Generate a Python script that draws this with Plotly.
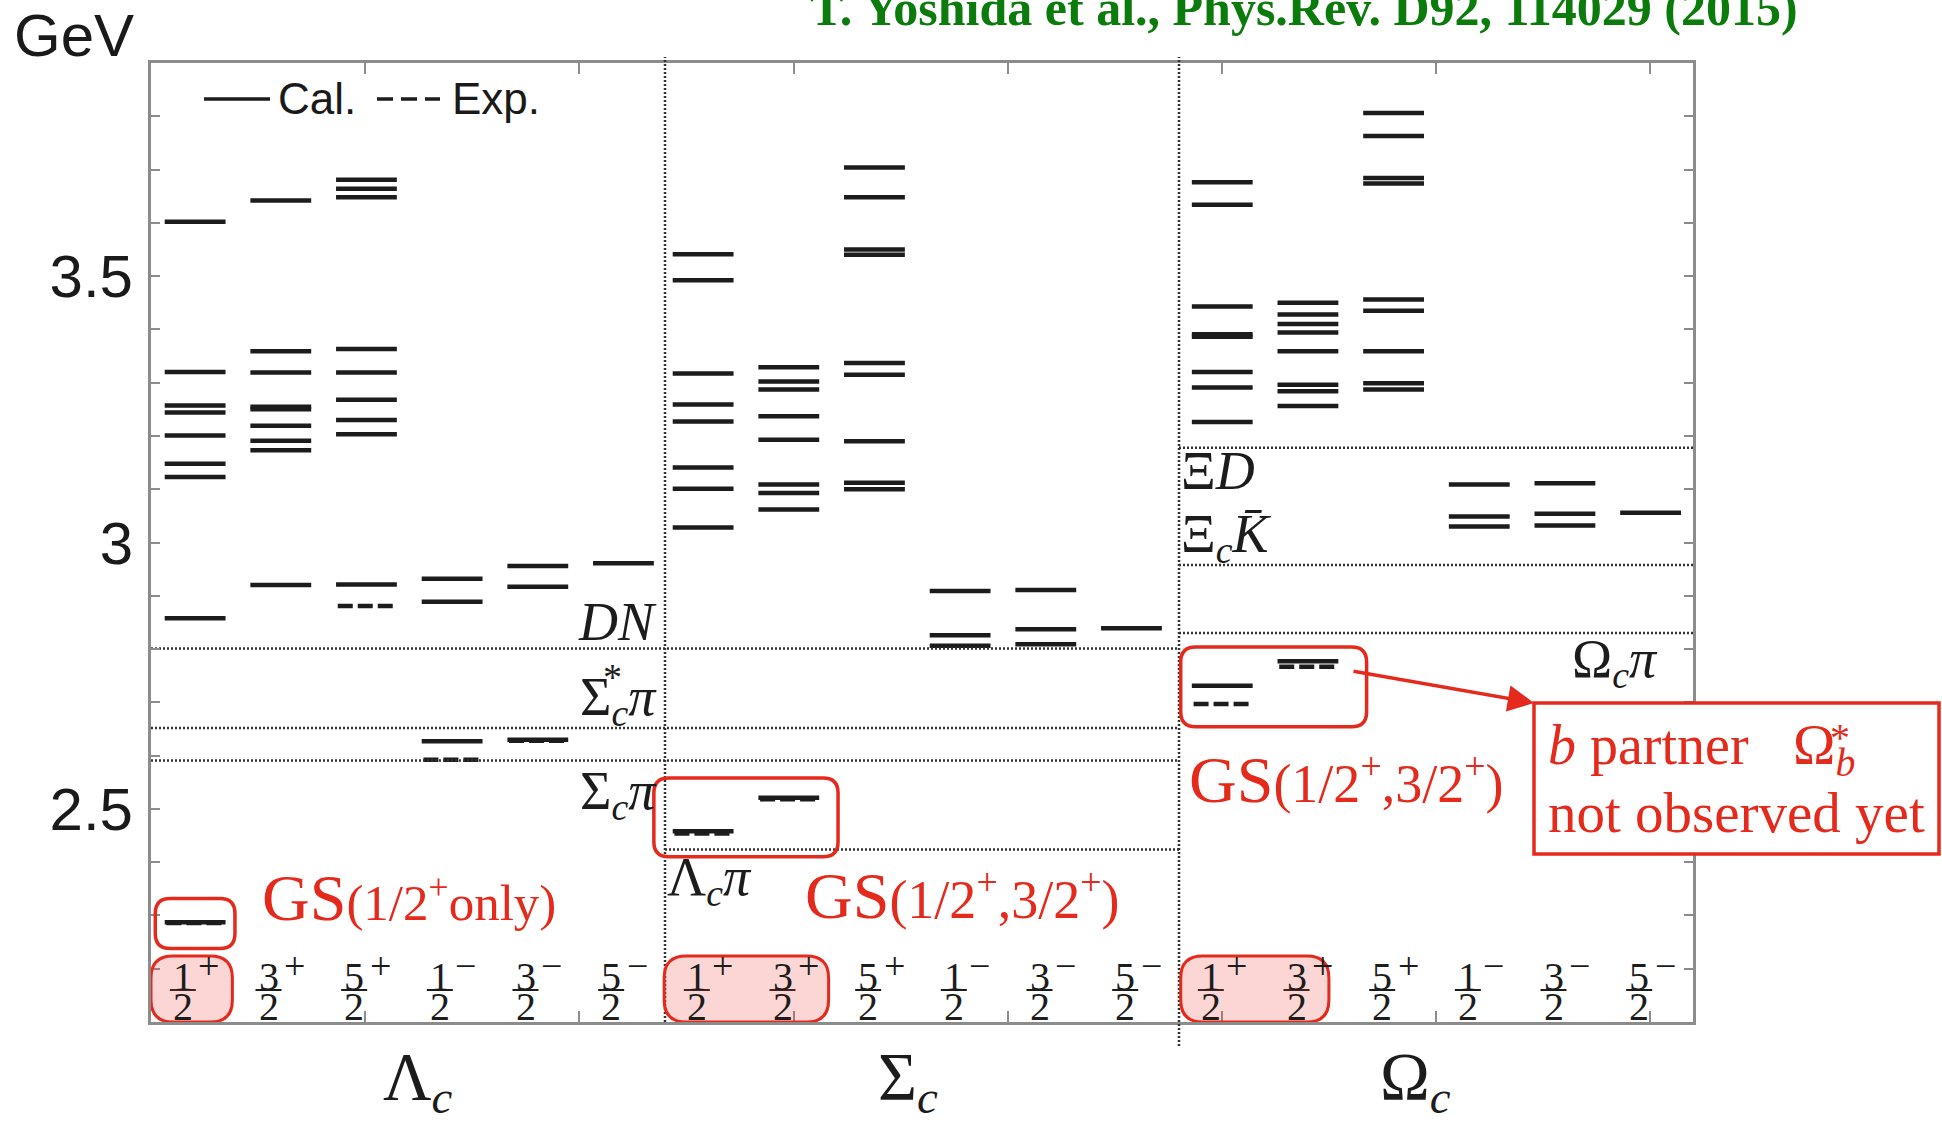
import plotly.graph_objects as go

# ----------------------------------------------------------------------
# Charmed-baryon spectra (GeV).  One list per J^P column, in the order
# 1/2+, 3/2+, 5/2+, 1/2-, 3/2-, 5/2-.
# ----------------------------------------------------------------------
lambda_c_cal = [
    [2.287, 2.858, 3.123, 3.148, 3.201, 3.244, 3.257, 3.320, 3.602],
    [2.920, 3.173, 3.191, 3.219, 3.250, 3.255, 3.319, 3.359, 3.642],
    [2.921, 3.203, 3.230, 3.268, 3.319, 3.363, 3.648, 3.664, 3.681],
    [2.627, 2.889, 2.932],
    [2.630, 2.917, 2.956],
    [2.961],
]
lambda_c_exp = [[2.286], [], [2.881], [2.592], [2.628], []]

sigma_c_cal = [
    [2.458, 3.028, 3.101, 3.141, 3.227, 3.259, 3.317, 3.492, 3.541],
    [2.521, 3.062, 3.093, 3.109, 3.193, 3.237, 3.287, 3.302, 3.329],
    [3.100, 3.112, 3.190, 3.315, 3.337, 3.540, 3.550, 3.648, 3.704],
    [2.806, 2.826, 2.909],
    [2.809, 2.837, 2.911],
    [2.839],
]
sigma_c_exp = [[2.454], [2.518], [], [], [], []]

omega_c_cal = [
    [2.731, 3.226, 3.291, 3.320, 3.386, 3.391, 3.443, 3.634, 3.676],
    [2.777, 3.256, 3.284, 3.296, 3.359, 3.394, 3.410, 3.428, 3.450],
    [3.287, 3.299, 3.359, 3.435, 3.456, 3.674, 3.684, 3.763, 3.806],
    [3.030, 3.049, 3.109],
    [3.032, 3.054, 3.111],
    [3.056],
]
omega_c_exp = [[2.697], [2.767], [], [], [], []]

# J^P column labels
jp_numerator = ["1", "3", "5", "1", "3", "5"]
jp_denominator = ["2", "2", "2", "2", "2", "2"]
jp_parity = ["+", "+", "+", "\u2212", "\u2212", "\u2212"]

baryon_names = ["\u039b<sub><i>c</i></sub>", "\u03a3<sub><i>c</i></sub>", "\u03a9<sub><i>c</i></sub>"]

# two-hadron thresholds (GeV) and the panels they belong to
threshold_names = ["DN", "Sigma_c* pi", "Sigma_c pi", "Lambda_c pi", "Xi D", "Xi_c Kbar", "Omega_c pi"]
threshold_mass = [2.801, 2.652, 2.591, 2.424, 3.178, 2.958, 2.830]
threshold_panels = [(0, 1), (0, 1), (0, 1), (1,), (2,), (2,), (2,)]

y_tick_values = [2.5, 3.0, 3.5]

# ----------------------------------------------------------------------
# Geometry and style
# ----------------------------------------------------------------------
W, H = 1942, 1125
M_L, M_R, M_T, M_B = 151, 249, 63, 103
PLOT_W = W - M_L - M_R
PLOT_H = H - M_T - M_B
X_RANGE = (0.0, 18.0)
Y_RANGE = (2.1, 3.9)
PX_PER_COL = PLOT_W / (X_RANGE[1] - X_RANGE[0])
PX_PER_GEV = PLOT_H / (Y_RANGE[1] - Y_RANGE[0])

RED = "#e42a1c"
INK = "#1c1c1c"
AXIS_GREY = "#8c8c8c"
GREEN = "#0b7b0b"
SERIF = "Liberation Serif, Times New Roman, serif"
SANS = "Liberation Sans, Arial, sans-serif"
NARROW = "Liberation Sans Narrow, Liberation Sans, Arial, sans-serif"


def paper_x(px):
    return (px - M_L) / PLOT_W


def paper_y(py):
    return (H - M_B - py) / PLOT_H


def y_of_px(py):
    return Y_RANGE[1] - (py - M_T) / PX_PER_GEV


def rounded_path(x0, x1, y0, y1, r_px):
    rx = r_px / PX_PER_COL
    ry = r_px / PX_PER_GEV
    return (f"M{x0 + rx},{y0} L{x1 - rx},{y0} Q{x1},{y0} {x1},{y0 + ry} "
            f"L{x1},{y1 - ry} Q{x1},{y1} {x1 - rx},{y1} L{x0 + rx},{y1} "
            f"Q{x0},{y1} {x0},{y1 - ry} L{x0},{y0 + ry} Q{x0},{y0} {x0 + rx},{y0} Z")


fig = go.Figure()

# ---- energy levels ---------------------------------------------------
panel_levels = [(lambda_c_cal, lambda_c_exp), (sigma_c_cal, sigma_c_exp), (omega_c_cal, omega_c_exp)]
line_span = [(0.16, 0.87), (0.09, 0.80), (0.15, 0.86)]

for p, (cal, exp) in enumerate(panel_levels):
    a, b = line_span[p]
    xs, ys = [], []
    for j, levels in enumerate(cal):
        col = 6 * p + j
        for e in levels:
            xs += [col + a, col + b, None]
            ys += [e, e, None]
    fig.add_trace(go.Scatter(x=xs, y=ys, mode="lines", name="Cal.",
                             line=dict(color=INK, width=4.5), hoverinfo="skip"))
    xs, ys = [], []
    for j, levels in enumerate(exp):
        col = 6 * p + j
        for e in levels:
            xs += [col + a + 0.02, col + b - 0.02, None]
            ys += [e, e, None]
    fig.add_trace(go.Scatter(x=xs, y=ys, mode="lines", name="Exp.",
                             line=dict(color=INK, width=4.5, dash="15px,5px"), hoverinfo="skip"))

# ---- thresholds -------------------------------------------------------
tx, ty = [], []
for m, panels in zip(threshold_mass, threshold_panels):
    tx += [6 * min(panels), 6 * (max(panels) + 1), None]
    ty += [m, m, None]
fig.add_trace(go.Scatter(x=tx, y=ty, mode="lines", name="thresholds",
                         line=dict(color="#333333", width=2.5, dash="2px,2px"), hoverinfo="skip"))

shapes = []
annotations = []

# panel separators
for sep, bottom in ((6, 1022), (12, 1046)):
    shapes.append(dict(type="line", xref="paper", yref="paper",
                       x0=sep / 18, x1=sep / 18, y0=paper_y(bottom), y1=paper_y(57),
                       line=dict(color="#333333", width=2.5, dash="2px,2px"), layer="above"))


def text(xpx, ypx, s, size, xanchor="left", color=INK, family=SERIF):
    annotations.append(dict(xref="paper", yref="paper", x=paper_x(xpx), y=paper_y(ypx),
                            text=s, showarrow=False, xanchor=xanchor, yanchor="middle",
                            font=dict(family=family, size=size, color=color)))


# ---- threshold labels ---------------------------------------------------
text(659, 622, "<i>DN</i>", 54, "right")
text(659, 700, "\u03a3<sub><i>c</i></sub><i>\u03c0</i>", 54, "right")
text(612, 677, "*", 38, "center")
text(659, 794, "\u03a3<sub><i>c</i></sub><i>\u03c0</i>", 54, "right")
text(665, 880, "\u039b<sub><i>c</i></sub><i>\u03c0</i>", 54, "left")
text(1179, 471, "\u039e<i>D</i>", 54, "left")
text(1179, 537, "\u039e<sub><i>c</i></sub><i>K\u0304</i>", 54, "left")
text(1660, 662, "\u03a9<sub><i>c</i></sub><i>\u03c0</i>", 54, "right")

# ---- J^P labels ---------------------------------------------------------
for p in range(3):
    for j in range(6):
        col = 6 * p + j
        fc = col + 0.5 - 11 / PX_PER_COL
        annotations.append(dict(x=fc, y=y_of_px(976), text=jp_numerator[j],
                                showarrow=False, xanchor="center", yanchor="middle",
                                font=dict(family=SERIF, size=40, color=INK)))
        annotations.append(dict(x=fc, y=y_of_px(1006), text=jp_denominator[j],
                                showarrow=False, xanchor="center", yanchor="middle",
                                font=dict(family=SERIF, size=40, color=INK)))
        annotations.append(dict(x=fc + 26 / PX_PER_COL, y=y_of_px(966),
                                text=jp_parity[j], showarrow=False, xanchor="center", yanchor="middle",
                                font=dict(family=SERIF, size=38, color=INK)))
        ybar = y_of_px(990)
        shapes.append(dict(type="line", xref="x", yref="y",
                           x0=fc - 13 / PX_PER_COL, x1=fc + 13 / PX_PER_COL, y0=ybar, y1=ybar,
                           line=dict(color=INK, width=2)))

# ---- baryon names -------------------------------------------------------
for name, left in zip(baryon_names, (381, 876, 1378)):
    text(left, 1081, name, 67, "left")

# ---- highlight boxes ----------------------------------------------------
label_top = y_of_px(956)
for x0, x1 in ((0.0, 0.95), (5.99, 7.91), (12.02, 13.75)):
    shapes.append(dict(type="path", xref="x", yref="y",
                       path=rounded_path(x0, x1, Y_RANGE[0], label_top, 22),
                       fillcolor="rgba(240,70,60,0.22)", line=dict(color=RED, width=3), layer="above"))

lam_gs = lambda_c_cal[0][0]
shapes.append(dict(type="path", xref="x", yref="y",
                   path=rounded_path(0.05, 0.98, lam_gs - 0.049, lam_gs + 0.045, 15),
                   line=dict(color=RED, width=3.5), layer="above"))
sig_lo = min(sigma_c_cal[0][0], sigma_c_exp[0][0])
sig_hi = max(sigma_c_cal[1][0], sigma_c_exp[1][0])
shapes.append(dict(type="path", xref="x", yref="y",
                   path=rounded_path(5.87, 8.02, sig_lo - 0.044, sig_hi + 0.037, 15),
                   line=dict(color=RED, width=3.5), layer="above"))
om_lo = min(omega_c_cal[0][0], omega_c_exp[0][0])
om_hi = max(omega_c_cal[1][0], omega_c_exp[1][0])
shapes.append(dict(type="path", xref="x", yref="y",
                   path=rounded_path(12.02, 14.19, om_lo - 0.043, om_hi + 0.027, 15),
                   line=dict(color=RED, width=3.5), layer="above"))

# ---- ground-state captions ----------------------------------------------
text(260, 898, 'GS<span style="font-size:51px">(1/2<sup>+</sup>only)</span>', 66, "left", RED)
text(803, 896, 'GS<span style="font-size:54px">(1/2<sup>+</sup>,3/2<sup>+</sup>)</span>', 66, "left", RED)
text(1187, 779, 'GS<span style="font-size:54px">(1/2<sup>+</sup>,3/2<sup>+</sup>)</span>', 66, "left", RED)

# ---- b-partner call-out ---------------------------------------------------
shapes.append(dict(type="rect", xref="paper", yref="paper",
                   x0=paper_x(1534), x1=paper_x(1939), y0=paper_y(854), y1=paper_y(703),
                   fillcolor="white", line=dict(color=RED, width=3.5), layer="above"))
annotations.append(dict(xref="paper", yref="paper", x=paper_x(1534), y=paper_y(703),
                        ax=1352 - 1534, ay=671 - 703, axref="pixel", ayref="pixel",
                        text="", showarrow=True, arrowhead=2, arrowsize=1.5, arrowwidth=3.5,
                        arrowcolor=RED, standoff=0))
text(1546, 745, "<i>b</i> partner", 56, "left", RED)
text(1791, 749, "\u03a9<sub><i>b</i></sub>", 57, "left", RED)
text(1840, 737, "*", 40, "center", RED)
text(1546, 812, "not observed yet", 57, "left", RED)

# ---- unit, legend, reference ------------------------------------------------
text(12, 35, "GeV", 60, "left", "#1a1a1a", SANS)
shapes.append(dict(type="line", xref="paper", yref="paper", x0=paper_x(204), x1=paper_x(270),
                   y0=paper_y(99), y1=paper_y(99), line=dict(color=INK, width=3.5)))
shapes.append(dict(type="line", xref="paper", yref="paper", x0=paper_x(377), x1=paper_x(440),
                   y0=paper_y(99), y1=paper_y(99), line=dict(color=INK, width=3.5, dash="16px,8px")))
text(276, 99, "Cal.", 44, "left", "#1a1a1a", NARROW)
text(450, 99, "Exp.", 44, "left", "#1a1a1a", NARROW)
text(808, 8, "<b>T. Yoshida et al., Phys.Rev. D92, 114029 (2015)</b>", 50, "left", GREEN)

# ---- axes -------------------------------------------------------------------
minor = [round(2.2 + 0.1 * k, 1) for k in range(17)]
fig.update_layout(
    width=W, height=H,
    margin=dict(l=M_L, r=M_R, t=M_T, b=M_B, autoexpand=False),
    paper_bgcolor="white", plot_bgcolor="white",
    showlegend=False,
    shapes=shapes,
    annotations=annotations,
    xaxis=dict(range=list(X_RANGE), showgrid=False, zeroline=False, showline=True,
               linecolor=AXIS_GREY, linewidth=3, mirror="allticks", ticks="inside",
               tickvals=[2.5 * k for k in range(1, 8)], ticklen=11, tickwidth=2,
               tickcolor=AXIS_GREY, showticklabels=False, fixedrange=True),
    yaxis=dict(range=list(Y_RANGE), showgrid=False, zeroline=False, showline=True,
               linecolor=AXIS_GREY, linewidth=3, mirror="allticks", ticks="inside",
               tickvals=minor,
               ticktext=[(f"{v:g}" if v in y_tick_values else "") for v in minor],
               ticklen=9, tickwidth=2, tickcolor=AXIS_GREY, ticklabelstandoff=3,
               tickfont=dict(family=SANS, size=60, color="#1a1a1a"), fixedrange=True),
)

fig.write_html("out.html")
